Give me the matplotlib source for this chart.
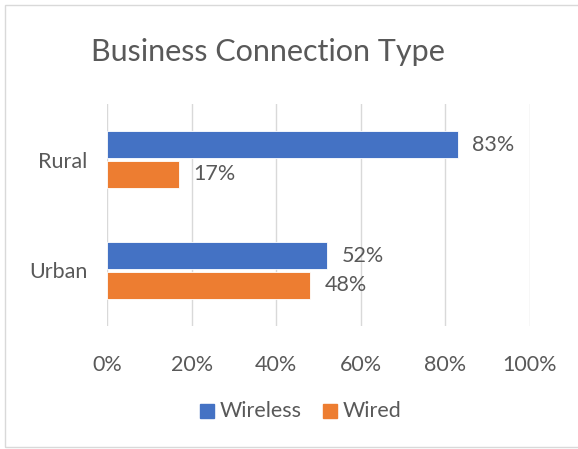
import matplotlib
matplotlib.use("Agg")
import matplotlib.pyplot as plt
from matplotlib.patches import Rectangle
import numpy as np

# Share of businesses by connection type
categories = ["Urban", "Rural"]          # bottom to top
wireless   = [52, 83]
wired      = [48, 17]
series_names = ["Wireless", "Wired"]
x_ticks = [0, 20, 40, 60, 80, 100]

BLUE   = "#4472C4"
ORANGE = "#ED7D31"
GRID   = "#D9D9D9"
TEXT   = "#595959"
FONT   = "Lato"
FS     = 15.5

W, H = 578, 449
fig = plt.figure(figsize=(W / 100, H / 100), dpi=100)

def fx(px):
    return px / W

def fy(py):
    return 1 - py / H

# chart area border
fig.patches.append(Rectangle((fx(5), fy(447)), fx(578) - fx(5) + 0.01, fy(5) - fy(447),
                             transform=fig.transFigure, fill=False,
                             edgecolor="#D9D9D9", linewidth=1.0))

ax = fig.add_axes([fx(107), fy(326), fx(530) - fx(107), fy(104) - fy(326)])

y = np.arange(len(categories))
h, off = 0.245, 0.135
b1 = ax.barh(y + off, wireless, height=h, color=BLUE, edgecolor="white", linewidth=0.6, zorder=3)
b2 = ax.barh(y - off, wired, height=h, color=ORANGE, edgecolor="white", linewidth=0.6, zorder=3)

for bars, vals in ((b1, wireless), (b2, wired)):
    for bar, v in zip(bars, vals):
        ax.text(v + 3.4, bar.get_y() + bar.get_height() / 2, f"{v}%",
                ha="left", va="center", fontsize=FS, color=TEXT, family=FONT)

ax.set_xlim(0, 100)
ax.set_ylim(-0.5, 1.5)
ax.set_xticks(x_ticks)
ax.set_xticklabels([f"{t}%" for t in x_ticks])
ax.set_yticks(y)
ax.set_yticklabels(categories)
ax.tick_params(axis="both", length=0, labelsize=FS, labelcolor=TEXT)
ax.tick_params(axis="x", pad=21)
ax.tick_params(axis="y", pad=14)
for lab in ax.get_xticklabels() + ax.get_yticklabels():
    lab.set_family(FONT)

ax.grid(axis="x", color=GRID, linewidth=1.0, zorder=0)
for s in ax.spines.values():
    s.set_visible(False)

fig.text(fx(268), fy(52), "Business Connection Type", ha="center", va="center",
         fontsize=22, color=TEXT, family=FONT)

# legend
for i, (name, col) in enumerate(zip(series_names, [BLUE, ORANGE])):
    x0 = [200, 323][i]
    fig.patches.append(Rectangle((fx(x0), fy(418)), fx(14), fy(404) - fy(418),
                                 transform=fig.transFigure, color=col))
    fig.text(fx(x0 + 20), fy(411), name, ha="left", va="center",
             fontsize=FS, color=TEXT, family=FONT)

fig.savefig("out.png", dpi=100)
